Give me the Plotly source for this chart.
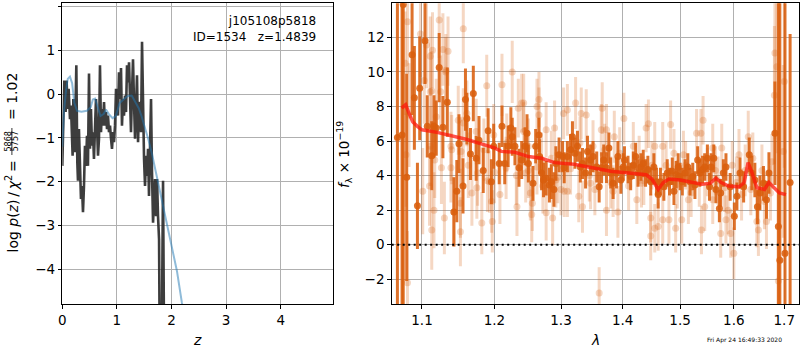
import plotly.graph_objects as go
import math

# ---------------- left panel: log p(z) ----------------
pz_z = [0.000, 0.018, 0.037, 0.061, 0.079, 0.098, 0.116, 0.141, 0.159, 0.177, 0.189, 0.202,
        0.214, 0.226, 0.238, 0.257, 0.275, 0.287, 0.305, 0.324, 0.342, 0.360, 0.379, 0.397,
        0.415, 0.434, 0.452, 0.470, 0.489, 0.507, 0.525, 0.544, 0.562, 0.580, 0.599, 0.617,
        0.635, 0.654, 0.672, 0.690, 0.709, 0.727, 0.745, 0.764, 0.782, 0.800, 0.819, 0.837,
        0.855, 0.874, 0.892, 0.910, 0.929, 0.947, 0.965, 0.984, 1.002, 1.020, 1.038, 1.057,
        1.075, 1.093, 1.112, 1.130, 1.148, 1.167, 1.185, 1.203, 1.222, 1.240, 1.258, 1.277,
        1.295, 1.313, 1.332, 1.350, 1.368, 1.387, 1.405, 1.423, 1.442, 1.460, 1.478, 1.497,
        1.515, 1.533, 1.552, 1.570, 1.588, 1.607, 1.625, 1.643, 1.662, 1.680, 1.698, 1.717,
        1.735, 1.753, 1.772, 1.800, 1.845, 1.880]
pz_logp = [-1.64, -0.72, 0.31, -0.41, 0.31, -0.34, 0.12, -0.57, -0.26, -0.95, -1.41, -0.11,
           -0.49, -1.33, -0.34, 0.66, -1.56, -1.98, -0.80, -1.48, -2.40, -2.10, -2.70, -2.10,
           -1.18, -1.64, -0.95, -1.64, 0.47, -1.25, -0.34, -1.18, -0.87, -1.48, -0.95, -0.11,
           -0.72, -1.41, -1.02, 0.66, -0.87, -0.34, -0.72, -0.18, -0.72, -0.41, -0.80, -0.49,
           -0.87, -0.72, -1.02, -1.25, -0.87, -1.10, -0.72, 0.12, -0.26, -0.49, 0.50, -0.11,
           0.60, -0.72, -0.11, -0.49, -0.03, -0.41, 0.66, 0.27, 0.73, -0.26, -0.87, 0.05,
           0.80, -0.18, -1.02, -0.34, 0.43, -1.10, -0.34, -0.18, -0.87, 1.20, -0.34, -1.48,
           -2.10, -1.41, -1.87, -1.25, -2.33, -1.33, -0.11, -1.79, -2.94, -2.40, -1.94, -2.79,
           -1.94, -2.79, -3.32, -9.0, -1.98, -9.0]

fit_z = [0.00, 0.03, 0.07, 0.10, 0.14, 0.18, 0.22, 0.27, 0.35, 0.45, 0.52, 0.56, 0.60,
         0.64, 0.70, 0.76, 0.80, 0.85, 0.92, 0.98, 1.05, 1.12, 1.20, 1.27, 1.33, 1.40,
         1.45, 1.52, 1.575, 1.64, 1.70, 1.80, 1.88, 2.00, 2.10, 2.19, 2.23]
fit_logp = [-1.20, -0.40, 0.10, 0.35, 0.40, 0.25, -0.20, -0.38, -0.40, -0.38, -0.30, -0.12,
            -0.10, -0.25, -0.50, -0.45, -0.35, -0.45, -0.55, -0.50, -0.20, -0.12, -0.04,
            -0.03, -0.15, -0.32, -0.50, -0.78, -1.03, -1.35, -1.70, -2.25, -2.78, -3.40,
            -4.05, -4.77, -5.05]

# ---------------- right panel: spectrum ----------------
dark_wave = [1.068, 1.074, 1.0755, 1.080, 1.087, 1.090, 1.094, 1.097, 1.104, 1.107, 1.113, 1.116,
             1.119, 1.123, 1.128, 1.134, 1.143, 1.147, 1.150, 1.1556, 1.159, 1.161, 1.166, 1.170,
             1.174, 1.178, 1.184, 1.191, 1.1957, 1.199, 1.207, 1.211, 1.215, 1.220, 1.224, 1.226,
             1.230, 1.236, 1.240, 1.245, 1.248, 1.250, 1.257, 1.261, 1.266, 1.267, 1.270, 1.273,
             1.277, 1.282, 1.285, 1.289, 1.292, 1.297, 1.3025, 1.305, 1.310, 1.315, 1.318, 1.322,
             1.326, 1.3305, 1.334, 1.339, 1.342, 1.347, 1.351, 1.357, 1.361, 1.365, 1.3685, 1.373,
             1.377, 1.380, 1.384, 1.3895, 1.392, 1.397, 1.401, 1.403, 1.409, 1.4135, 1.418, 1.422,
             1.426, 1.431, 1.435, 1.439, 1.443, 1.448, 1.4535, 1.458, 1.461, 1.465, 1.471, 1.477,
             1.481, 1.486, 1.489, 1.493, 1.4965, 1.500, 1.504, 1.509, 1.514, 1.518, 1.523, 1.527,
             1.532, 1.536, 1.541, 1.545, 1.550, 1.554, 1.557, 1.562, 1.566, 1.5725, 1.575, 1.580,
             1.585, 1.593, 1.601, 1.606, 1.612, 1.619, 1.630, 1.635, 1.641, 1.646, 1.651, 1.658,
             1.664, 1.669, 1.681, 1.688, 1.691, 1.7015, 1.712]
dark_flux = [6.2, 6.35, 13.9, 3.9, 11.0, 8.5, 2.25, 9.05, 11.8, 6.85, 5.15, 6.85,
             6.75, 10.25, 6.8, 8.25, 1.9, 3.1, 5.85, 3.4, 8.4, 7.3, 5.25, 8.75,
             5.0, 6.05, 4.3, 6.6, 3.65, 5.7, 4.7, 6.85, 4.7, 5.7, 6.75, 6.25,
             5.7, 4.45, 4.9, 5.7, 6.45, 4.7, 3.55, 5.7, 6.35, 5.1, 4.15, 3.75,
             3.85, 3.45, 3.65, 3.2, 4.7, 5.2, 5.1, 4.45, 5.1, 5.5, 6.25, 5.3,
             5.7, 4.5, 4.7, 4.15, 5.4, 4.9, 5.1, 4.5, 3.35, 4.45, 4.9, 4.45,
             5.6, 4.15, 3.55, 4.15, 5.1, 3.75, 4.5, 4.9, 4.35, 3.95, 4.6, 5.1,
             4.15, 4.5, 4.7, 4.15, 4.35, 3.65, 4.5, 3.65, 2.9, 3.65, 3.35, 4.15,
             3.65, 4.25, 3.1, 4.05, 4.5, 3.95, 3.65, 4.15, 4.5, 3.65, 3.95, 3.45,
             4.9, 4.15, 4.35, 4.5, 5.0, 3.35, 4.5, 5.0, 3.2, 2.1, 3.0, 4.15,
             4.5, 3.35, 1.65, 2.8, 4.15, 3.35, 5.2, 4.15, 3.75, 2.2, 3.0, 3.55,
             2.6, 4.15, 6.45, 1.05, -0.9, -0.5, 3.6]
dark_err = [30, 30, 30, 6.0, 3.5, 3.0, 2.5, 3.0, 2.5, 1.8, 2.0, 1.8,
            1.6, 2.0, 1.8, 2.0, 2.0, 1.8, 1.7, 1.6, 1.8, 1.5, 1.5, 1.6,
            1.3, 1.4, 1.3, 1.3, 1.3, 1.3, 1.2, 1.2, 1.2, 1.2, 1.2, 1.1,
            1.1, 1.1, 1.1, 1.1, 1.1, 1.1, 1.0, 1.0, 1.0, 1.0, 1.0, 1.0,
            1.0, 1.0, 1.0, 1.0, 1.0, 1.0, 0.9, 0.9, 0.9, 0.9, 0.9, 0.9,
            0.9, 0.9, 0.9, 0.9, 0.9, 0.9, 0.9, 0.9, 0.9, 0.9, 0.9, 0.9,
            0.9, 0.9, 0.9, 0.9, 0.9, 0.8, 0.8, 0.8, 0.8, 0.8, 0.8, 0.8,
            0.8, 0.8, 0.8, 0.8, 0.8, 0.8, 0.8, 0.8, 0.8, 0.8, 0.8, 0.8,
            0.8, 0.8, 0.8, 0.8, 0.8, 0.8, 0.8, 0.8, 0.8, 0.8, 0.8, 0.8,
            0.8, 0.8, 0.8, 0.8, 0.8, 0.8, 0.8, 0.8, 0.8, 0.8, 0.8, 0.8,
            0.8, 0.8, 0.8, 0.8, 0.9, 0.9, 1.0, 1.0, 1.0, 1.0, 1.0, 1.0,
            1.1, 1.2, 3.0, 30, 30, 30, 8.6]

light_wave = [1.078, 1.079, 1.081, 1.081, 1.083, 1.098, 1.101, 1.103, 1.106, 1.110, 1.111, 1.111,
              1.113, 1.113, 1.114, 1.116, 1.119, 1.123, 1.125, 1.126, 1.128, 1.130, 1.132, 1.135,
              1.139, 1.140, 1.143, 1.149, 1.152, 1.152, 1.156, 1.161, 1.163, 1.168, 1.175, 1.182,
              1.185, 1.190, 1.196, 1.197, 1.200, 1.208, 1.211, 1.218, 1.226, 1.232, 1.233, 1.240,
              1.243, 1.250, 1.250, 1.253, 1.255, 1.256, 1.263, 1.266, 1.270, 1.277, 1.277, 1.285,
              1.287, 1.290, 1.295, 1.300, 1.304, 1.310, 1.315, 1.323, 1.328, 1.330, 1.332, 1.334,
              1.340, 1.345, 1.347, 1.351, 1.354, 1.361, 1.3645, 1.366, 1.370, 1.373, 1.373, 1.380,
              1.384, 1.386, 1.392, 1.395, 1.402, 1.410, 1.418, 1.424, 1.428, 1.432, 1.436, 1.440,
              1.444, 1.448, 1.448, 1.450, 1.455, 1.455, 1.461, 1.469, 1.469, 1.475, 1.480, 1.483,
              1.489, 1.492, 1.495, 1.503, 1.506, 1.510, 1.515, 1.520, 1.530, 1.535, 1.538, 1.539,
              1.542, 1.545, 1.550, 1.560, 1.560, 1.565, 1.570, 1.575, 1.577, 1.582, 1.585, 1.589,
              1.594, 1.597, 1.600, 1.605, 1.610, 1.615, 1.622, 1.628, 1.633, 1.637, 1.645, 1.648,
              1.655, 1.660, 1.664, 1.672, 1.675, 1.680, 1.681, 1.685, 1.688, 1.698, 1.700,
              1.111, 1.117, 1.132, 1.139, 1.153, 1.156, 1.174, 1.176, 1.189, 1.193, 1.199, 1.217,
              1.235, 1.243, 1.246, 1.263, 1.266, 1.272, 1.292, 1.305, 1.310]
light_flux = [10.5, 5.2, 12.9, -2.2, 7.5, 12.2, 3.1, 9.5, 11.55, 3.4, 10.9, 5.7,
              8.9, 0.85, 11.25, 2.0, 7.4, 13.0, 8.85, 4.45, 11.3, 1.55, 10.0, 11.2,
              4.45, 5.5, 1.9, 7.2, 0.75, 2.4, 12.5, 7.6, 4.6, 3.0, 3.3, 1.25,
              5.5, 3.7, 2.5, 1.35, 4.2, 2.9, 9.25, 5.9, 10.0, 4.0, 2.2, 8.2,
              6.55, 5.7, 4.3, 3.0, 1.75, 2.4, 8.0, 8.4, 4.9, 6.65, 1.85, 5.0,
              1.55, 6.75, 3.9, 3.2, 7.6, 3.1, 4.4, 8.2, 2.8, 5.9, 7.6, 2.2,
              7.5, 4.0, 3.55, 5.7, 3.2, -2.8, 6.65, 7.9, 5.5, 6.65, 2.0, 3.6,
              3.1, 6.25, 1.9, 5.3, 7.3, 3.4, 5.7, 2.6, 4.9, 3.55, 3.7, 6.75,
              7.0, 1.55, 0.5, 4.6, 5.7, 0.95, 1.05, 5.7, 1.45, 4.6, 1.45, 6.95,
              5.3, 0.95, 3.5, 1.45, 5.2, 4.6, 2.6, 3.0, 6.45, 3.6, 6.45, 0.85,
              7.2, 2.2, 4.2, 5.6, 2.6, 4.3, 3.7, 0.65, 5.6, 3.3, 1.45, 2.0,
              0.65, 4.6, -0.5, 3.6, 5.2, 2.9, 4.3, 6.25, 3.2, 5.0, 1.35, 0.85,
              4.3, 2.5, 1.35, 3.0, 4.8, 8.65, 11.1, 10.3, -2.1, 5.4, 9.45,
              8.85, 4.9, 10.1, 5.7, 5.4, 7.05, 6.55, 4.15, 9.2, 3.65, 6.35, 4.45,
              7.9, 8.2, 4.15, 4.5, 7.5, 3.4, 3.75, 3.1, 7.8]
light_err = [3.0, 3.0, 3.0, 3.0, 3.0, 2.5, 2.5, 2.5, 2.5, 2.3, 2.3, 2.3,
             2.3, 2.3, 2.2, 2.2, 2.2, 2.2, 2.1, 2.1, 2.1, 2.1, 2.0, 2.0,
             2.0, 2.0, 2.0, 2.0, 2.0, 2.0, 2.0, 1.9, 1.9, 1.9, 1.8, 1.8,
             1.8, 1.8, 1.8, 1.8, 1.8, 1.7, 1.8, 1.7, 1.8, 1.7, 1.7, 1.7,
             1.7, 1.6, 1.6, 1.6, 1.6, 1.6, 1.6, 1.6, 1.6, 1.6, 1.6, 1.6,
             1.6, 1.6, 1.5, 1.5, 1.5, 1.5, 1.5, 1.5, 1.5, 1.5, 1.5, 1.5,
             1.5, 1.5, 1.5, 1.5, 1.5, 1.5, 1.5, 1.5, 1.5, 1.5, 1.5, 1.5,
             1.5, 1.5, 1.5, 1.5, 1.5, 1.4, 1.4, 1.4, 1.4, 1.4, 1.4, 1.4,
             1.4, 1.4, 1.4, 1.4, 1.4, 1.4, 1.4, 1.4, 1.4, 1.4, 1.4, 1.4,
             1.4, 1.4, 1.4, 1.4, 1.4, 1.4, 1.4, 1.4, 1.4, 1.4, 1.4, 1.4,
             1.4, 1.4, 1.4, 1.4, 1.4, 1.4, 1.4, 1.4, 1.4, 1.4, 1.4, 1.4,
             1.4, 1.4, 1.5, 1.5, 1.5, 1.5, 1.5, 1.5, 1.5, 1.5, 1.5, 1.5,
             1.5, 1.6, 1.6, 1.6, 1.6, 4.0, 5.0, 5.0, 5.0, 5.0, 5.0,
             2.3, 2.2, 2.1, 2.0, 2.0, 2.0, 1.9, 1.9, 1.8, 1.8, 1.8, 1.8,
             1.7, 1.7, 1.7, 1.6, 1.6, 1.6, 1.6, 1.5, 1.5]

model_wave = [1.0735, 1.0787, 1.083, 1.088, 1.094, 1.100, 1.120, 1.140, 1.160, 1.180, 1.200,
              1.210, 1.230, 1.250, 1.270, 1.290, 1.320, 1.350, 1.380, 1.410, 1.440, 1.450,
              1.461, 1.470, 1.480, 1.500, 1.520, 1.540, 1.555, 1.566, 1.576, 1.590, 1.610,
              1.620, 1.6276, 1.635, 1.645, 1.660, 1.669, 1.680, 1.690, 1.7035]
model_flux = [7.9, 8.1, 7.6, 7.1, 6.85, 6.65, 6.5, 6.3, 6.1, 5.85, 5.6,
              5.4, 5.35, 5.1, 5.0, 4.75, 4.65, 4.45, 4.25, 4.15, 4.05, 3.8,
              3.2, 3.6, 3.8, 3.75, 3.65, 3.5, 3.55, 3.85, 3.6, 3.4, 3.35,
              3.6, 4.75, 4.2, 3.3, 3.2, 3.6, 3.3, 3.0, 2.9]

xticks_left = [0, 1, 2, 3, 4]
yticks_left = [-4, -3, -2, -1, 0, 1, 2]
xticks_right = [1.1, 1.2, 1.3, 1.4, 1.5, 1.6, 1.7]
xticklabels_right = ["1.1", "1.2", "1.3", "1.4", "1.5", "1.6", "1.7"]
yticks_right = [-2, 0, 2, 4, 6, 8, 10, 12]

W, H = 800, 350
FONT = "DejaVu Sans"

fig = go.Figure()

fig.add_trace(go.Scatter(x=pz_z, y=pz_logp, mode="lines",
                         line=dict(color="rgba(40,40,40,0.9)", width=2.6),
                         xaxis="x", yaxis="y", showlegend=False))
fig.add_trace(go.Scatter(x=fit_z, y=fit_logp, mode="lines",
                         line=dict(color="rgba(31,119,180,0.5)", width=2),
                         xaxis="x", yaxis="y", showlegend=False))

LIGHT = "rgba(217,95,14,0.25)"
DARK = "rgba(217,95,14,0.88)"
fig.add_trace(go.Scatter(x=light_wave, y=light_flux, mode="markers",
                         marker=dict(color=LIGHT, size=7, line=dict(width=0)),
                         error_y=dict(type="data", array=light_err, visible=True,
                                      color=LIGHT, thickness=3, width=0),
                         xaxis="x2", yaxis="y2", showlegend=False))
fig.add_trace(go.Scatter(x=dark_wave, y=dark_flux, mode="markers",
                         marker=dict(color=DARK, size=7, line=dict(width=0)),
                         error_y=dict(type="data", array=dark_err, visible=True,
                                      color=DARK, thickness=3, width=0),
                         xaxis="x2", yaxis="y2", showlegend=False))
fig.add_trace(go.Scatter(x=model_wave, y=model_flux, mode="lines",
                         line=dict(color="rgba(255,20,10,0.72)", width=3.5),
                         xaxis="x2", yaxis="y2", showlegend=False))

axis_common = dict(showgrid=True, gridcolor="#b0b0b0", gridwidth=1, zeroline=False,
                   showline=True, mirror=True, linecolor="black", linewidth=1,
                   ticks="outside", ticklen=3.5, tickwidth=1, tickcolor="black",
                   automargin=False,
                   tickfont=dict(family=FONT, size=13.5, color="black"))

xl0, xl1 = 62.3 / W, 333.3 / W
xr0, xr1 = 391.7 / W, 799.3 / W
yb, yt = 1 - 304 / H, 1 - 3.3 / H

fig.update_layout(
    template="none",
    width=W, height=H, autosize=False,
    margin=dict(l=0, r=0, t=0, b=0, pad=0),
    paper_bgcolor="white", plot_bgcolor="white",
    font=dict(family=FONT, color="black"),
    showlegend=False,
    xaxis=dict(domain=[xl0, xl1], range=[0, 4.963], tickvals=xticks_left, anchor="y", **axis_common),
    yaxis=dict(domain=[yb, yt], range=[-4.80, 2.078], tickvals=yticks_left, anchor="x", **axis_common),
    xaxis2=dict(domain=[xr0, xr1], type="log",
                range=[math.log10(1.0607), math.log10(1.731)],
                tickvals=xticks_right, ticktext=xticklabels_right, anchor="y2", **axis_common),
    yaxis2=dict(domain=[yb, yt], range=[-3.43, 13.97], tickvals=yticks_right, anchor="x2", **axis_common),
)

# dotted zero line
fig.add_shape(type="line", xref="x2 domain", x0=0, x1=1, yref="y2", y0=0, y1=0,
              line=dict(color="black", width=2, dash="2px,3.5px"), layer="above")

def ann(text, px, py, size, xanchor="center", yanchor="middle", angle=0, align="center"):
    fig.add_annotation(text=text, x=px / W, y=1 - py / H, xref="paper", yref="paper",
                       showarrow=False, xanchor=xanchor, yanchor=yanchor, textangle=angle,
                       align=align, font=dict(family=FONT, size=size, color="black"))

ann("j105108p5818<br>ID=1534   z=1.4839", 318, 12, 12, xanchor="right", yanchor="top", align="right")
ann("<i>z</i>", 197, 340, 14)
ann("<i>λ</i>", 595, 340, 14)
ann("Fri Apr 24 16:49:33 2020", 744.5, 339.5, 6)

# left y label, built in pieces (fraction stacked)
ann("log <i>p</i>(<i>z</i>)\u2009/\u2009<i>χ</i><sup>2</sup>\u2009=", 12.5, 159, 14, yanchor="top", angle=-90)
ann("5868", 8.0, 141.5, 8, angle=-90)
ann("5757", 15.8, 141.5, 8, angle=-90)
fig.add_shape(type="line", xref="paper", yref="paper", x0=11.9 / W, x1=11.9 / W,
              y0=1 - 128 / H, y1=1 - 155 / H, line=dict(color="black", width=0.8))
ann("= 1.02", 12.5, 122, 14, yanchor="bottom", angle=-90)

# right y label
ann("<i>f</i><sub>λ</sub> × 10<sup>−19</sup>", 344, 155, 13.5, angle=-90)

fig.write_html("out.html", config={"displayModeBar": False},
               post_script="document.body.style.margin='0';document.body.style.overflow='hidden';")
